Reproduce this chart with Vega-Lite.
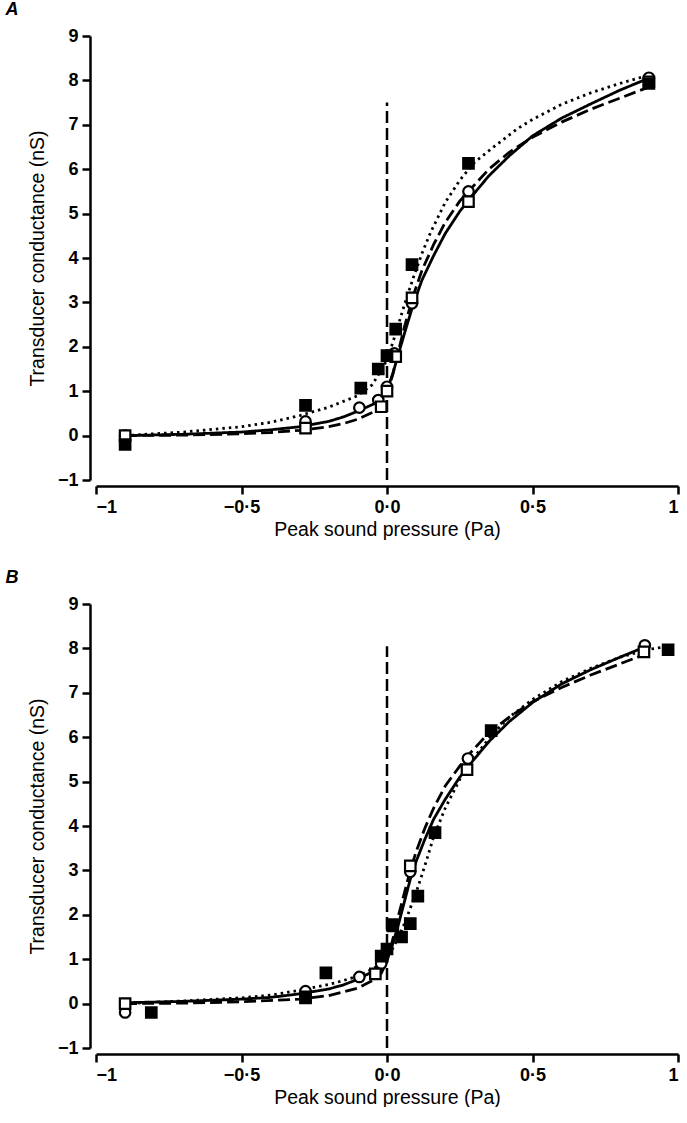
{
  "$schema": "https://vega.github.io/schema/vega-lite/v6.json",
  "background": "white",
  "padding": {"left": 5, "top": 1, "right": 0, "bottom": 0},
  "config": {
    "view": {"stroke": null},
    "font": "Liberation Sans",
    "axis": {
      "grid": false,
      "domainColor": "black",
      "domainWidth": 2.5,
      "tickColor": "black",
      "tickWidth": 2.5,
      "tickSize": 8,
      "labelColor": "black",
      "labelFont": "Liberation Sans",
      "labelFontSize": 18,
      "labelFontWeight": "bold",
      "labelPadding": 4,
      "titleColor": "black",
      "titleFont": "Liberation Sans",
      "titleFontSize": 19.5,
      "titleFontWeight": "normal",
      "offset": 6
    },
    "title": {"font": "Liberation Sans", "fontSize": 18, "fontWeight": "bold", "fontStyle": "italic", "color": "black", "anchor": "start", "frame": "bounds", "offset": 8}
  },
  "datasets": {
    "points": [
      {"panel": "A", "sym": "open circle", "p": -0.9, "g": 0.0},
      {"panel": "A", "sym": "open circle", "p": -0.28, "g": 0.32},
      {"panel": "A", "sym": "open circle", "p": -0.095, "g": 0.63},
      {"panel": "A", "sym": "open circle", "p": -0.03, "g": 0.8},
      {"panel": "A", "sym": "open circle", "p": 0.0, "g": 1.1},
      {"panel": "A", "sym": "open circle", "p": 0.025, "g": 1.85},
      {"panel": "A", "sym": "open circle", "p": 0.086, "g": 2.98},
      {"panel": "A", "sym": "open circle", "p": 0.28, "g": 5.5},
      {"panel": "A", "sym": "open circle", "p": 0.9, "g": 8.06},
      {"panel": "A", "sym": "open square", "p": -0.9, "g": 0.0},
      {"panel": "A", "sym": "open square", "p": -0.28, "g": 0.17},
      {"panel": "A", "sym": "open square", "p": -0.02, "g": 0.65},
      {"panel": "A", "sym": "open square", "p": 0.0, "g": 1.0},
      {"panel": "A", "sym": "open square", "p": 0.03, "g": 1.78},
      {"panel": "A", "sym": "open square", "p": 0.086, "g": 3.1},
      {"panel": "A", "sym": "open square", "p": 0.28, "g": 5.27},
      {"panel": "A", "sym": "open square", "p": 0.9, "g": 7.97},
      {"panel": "A", "sym": "filled square", "p": -0.9, "g": -0.2},
      {"panel": "A", "sym": "filled square", "p": -0.28, "g": 0.68},
      {"panel": "A", "sym": "filled square", "p": -0.09, "g": 1.07},
      {"panel": "A", "sym": "filled square", "p": -0.03, "g": 1.5},
      {"panel": "A", "sym": "filled square", "p": 0.0, "g": 1.8},
      {"panel": "A", "sym": "filled square", "p": 0.03, "g": 2.4},
      {"panel": "A", "sym": "filled square", "p": 0.086, "g": 3.85},
      {"panel": "A", "sym": "filled square", "p": 0.28, "g": 6.13},
      {"panel": "A", "sym": "filled square", "p": 0.9, "g": 7.93},
      {"panel": "B", "sym": "open circle", "p": -0.9, "g": -0.2},
      {"panel": "B", "sym": "open circle", "p": -0.28, "g": 0.28},
      {"panel": "B", "sym": "open circle", "p": -0.095, "g": 0.6},
      {"panel": "B", "sym": "open circle", "p": -0.02, "g": 0.9},
      {"panel": "B", "sym": "open circle", "p": 0.08, "g": 2.97},
      {"panel": "B", "sym": "open circle", "p": 0.278, "g": 5.52},
      {"panel": "B", "sym": "open circle", "p": 0.886, "g": 8.07},
      {"panel": "B", "sym": "open square", "p": -0.9, "g": 0.0},
      {"panel": "B", "sym": "open square", "p": -0.28, "g": 0.13},
      {"panel": "B", "sym": "open square", "p": -0.04, "g": 0.67},
      {"panel": "B", "sym": "open square", "p": 0.02, "g": 1.75},
      {"panel": "B", "sym": "open square", "p": 0.08, "g": 3.1},
      {"panel": "B", "sym": "open square", "p": 0.275, "g": 5.27},
      {"panel": "B", "sym": "open square", "p": 0.883, "g": 7.92},
      {"panel": "B", "sym": "filled square", "p": -0.81, "g": -0.2},
      {"panel": "B", "sym": "filled square", "p": -0.28, "g": 0.15},
      {"panel": "B", "sym": "filled square", "p": -0.21, "g": 0.69},
      {"panel": "B", "sym": "filled square", "p": -0.02, "g": 1.07},
      {"panel": "B", "sym": "filled square", "p": 0.0, "g": 1.23},
      {"panel": "B", "sym": "filled square", "p": 0.018, "g": 1.78},
      {"panel": "B", "sym": "filled square", "p": 0.05, "g": 1.5},
      {"panel": "B", "sym": "filled square", "p": 0.08, "g": 1.8},
      {"panel": "B", "sym": "filled square", "p": 0.106, "g": 2.42},
      {"panel": "B", "sym": "filled square", "p": 0.165, "g": 3.85},
      {"panel": "B", "sym": "filled square", "p": 0.358, "g": 6.15},
      {"panel": "B", "sym": "filled square", "p": 0.966, "g": 7.97}
    ],
    "curves": [
      {"panel": "A", "fit": "solid", "p": -0.9, "g": 0.0},
      {"panel": "A", "fit": "solid", "p": -0.7, "g": 0.03},
      {"panel": "A", "fit": "solid", "p": -0.5, "g": 0.08},
      {"panel": "A", "fit": "solid", "p": -0.4, "g": 0.13},
      {"panel": "A", "fit": "solid", "p": -0.3, "g": 0.2},
      {"panel": "A", "fit": "solid", "p": -0.2, "g": 0.32},
      {"panel": "A", "fit": "solid", "p": -0.15, "g": 0.42},
      {"panel": "A", "fit": "solid", "p": -0.1, "g": 0.55},
      {"panel": "A", "fit": "solid", "p": -0.05, "g": 0.7},
      {"panel": "A", "fit": "solid", "p": -0.02, "g": 0.82},
      {"panel": "A", "fit": "solid", "p": 0.0, "g": 1.02},
      {"panel": "A", "fit": "solid", "p": 0.02, "g": 1.4},
      {"panel": "A", "fit": "solid", "p": 0.04, "g": 1.85},
      {"panel": "A", "fit": "solid", "p": 0.06, "g": 2.3},
      {"panel": "A", "fit": "solid", "p": 0.09, "g": 2.95},
      {"panel": "A", "fit": "solid", "p": 0.12, "g": 3.5},
      {"panel": "A", "fit": "solid", "p": 0.16, "g": 4.05},
      {"panel": "A", "fit": "solid", "p": 0.2, "g": 4.55},
      {"panel": "A", "fit": "solid", "p": 0.25, "g": 5.05},
      {"panel": "A", "fit": "solid", "p": 0.28, "g": 5.3},
      {"panel": "A", "fit": "solid", "p": 0.35, "g": 5.85},
      {"panel": "A", "fit": "solid", "p": 0.42, "g": 6.3},
      {"panel": "A", "fit": "solid", "p": 0.5, "g": 6.75},
      {"panel": "A", "fit": "solid", "p": 0.6, "g": 7.15},
      {"panel": "A", "fit": "solid", "p": 0.7, "g": 7.47},
      {"panel": "A", "fit": "solid", "p": 0.8, "g": 7.78},
      {"panel": "A", "fit": "solid", "p": 0.9, "g": 8.05},
      {"panel": "A", "fit": "dashed", "p": -0.9, "g": 0.0},
      {"panel": "A", "fit": "dashed", "p": -0.7, "g": 0.01},
      {"panel": "A", "fit": "dashed", "p": -0.5, "g": 0.04},
      {"panel": "A", "fit": "dashed", "p": -0.4, "g": 0.07},
      {"panel": "A", "fit": "dashed", "p": -0.3, "g": 0.12},
      {"panel": "A", "fit": "dashed", "p": -0.2, "g": 0.2},
      {"panel": "A", "fit": "dashed", "p": -0.15, "g": 0.27},
      {"panel": "A", "fit": "dashed", "p": -0.1, "g": 0.37},
      {"panel": "A", "fit": "dashed", "p": -0.05, "g": 0.52},
      {"panel": "A", "fit": "dashed", "p": -0.02, "g": 0.66},
      {"panel": "A", "fit": "dashed", "p": 0.0, "g": 0.95},
      {"panel": "A", "fit": "dashed", "p": 0.02, "g": 1.38},
      {"panel": "A", "fit": "dashed", "p": 0.04, "g": 1.92},
      {"panel": "A", "fit": "dashed", "p": 0.06, "g": 2.45},
      {"panel": "A", "fit": "dashed", "p": 0.09, "g": 3.15},
      {"panel": "A", "fit": "dashed", "p": 0.12, "g": 3.72},
      {"panel": "A", "fit": "dashed", "p": 0.16, "g": 4.3},
      {"panel": "A", "fit": "dashed", "p": 0.2, "g": 4.8},
      {"panel": "A", "fit": "dashed", "p": 0.25, "g": 5.28},
      {"panel": "A", "fit": "dashed", "p": 0.28, "g": 5.5},
      {"panel": "A", "fit": "dashed", "p": 0.35, "g": 6.0},
      {"panel": "A", "fit": "dashed", "p": 0.42, "g": 6.38},
      {"panel": "A", "fit": "dashed", "p": 0.5, "g": 6.72},
      {"panel": "A", "fit": "dashed", "p": 0.6, "g": 7.06},
      {"panel": "A", "fit": "dashed", "p": 0.7, "g": 7.35},
      {"panel": "A", "fit": "dashed", "p": 0.8, "g": 7.6},
      {"panel": "A", "fit": "dashed", "p": 0.9, "g": 7.85},
      {"panel": "A", "fit": "dotted", "p": -0.9, "g": 0.0},
      {"panel": "A", "fit": "dotted", "p": -0.7, "g": 0.08},
      {"panel": "A", "fit": "dotted", "p": -0.5, "g": 0.2},
      {"panel": "A", "fit": "dotted", "p": -0.4, "g": 0.3},
      {"panel": "A", "fit": "dotted", "p": -0.3, "g": 0.45},
      {"panel": "A", "fit": "dotted", "p": -0.2, "g": 0.64},
      {"panel": "A", "fit": "dotted", "p": -0.1, "g": 0.9},
      {"panel": "A", "fit": "dotted", "p": -0.05, "g": 1.15},
      {"panel": "A", "fit": "dotted", "p": 0.0, "g": 1.7},
      {"panel": "A", "fit": "dotted", "p": 0.03, "g": 2.3},
      {"panel": "A", "fit": "dotted", "p": 0.06, "g": 2.95},
      {"panel": "A", "fit": "dotted", "p": 0.09, "g": 3.55},
      {"panel": "A", "fit": "dotted", "p": 0.12, "g": 4.1},
      {"panel": "A", "fit": "dotted", "p": 0.15, "g": 4.58},
      {"panel": "A", "fit": "dotted", "p": 0.2, "g": 5.25},
      {"panel": "A", "fit": "dotted", "p": 0.25, "g": 5.75},
      {"panel": "A", "fit": "dotted", "p": 0.3, "g": 6.15},
      {"panel": "A", "fit": "dotted", "p": 0.37, "g": 6.52},
      {"panel": "A", "fit": "dotted", "p": 0.45, "g": 6.92},
      {"panel": "A", "fit": "dotted", "p": 0.5, "g": 7.12},
      {"panel": "A", "fit": "dotted", "p": 0.6, "g": 7.46},
      {"panel": "A", "fit": "dotted", "p": 0.7, "g": 7.72},
      {"panel": "A", "fit": "dotted", "p": 0.8, "g": 7.93},
      {"panel": "A", "fit": "dotted", "p": 0.9, "g": 8.12},
      {"panel": "B", "fit": "solid", "p": -0.9, "g": 0.02},
      {"panel": "B", "fit": "solid", "p": -0.7, "g": 0.05},
      {"panel": "B", "fit": "solid", "p": -0.5, "g": 0.1},
      {"panel": "B", "fit": "solid", "p": -0.4, "g": 0.14},
      {"panel": "B", "fit": "solid", "p": -0.3, "g": 0.22},
      {"panel": "B", "fit": "solid", "p": -0.2, "g": 0.33},
      {"panel": "B", "fit": "solid", "p": -0.15, "g": 0.42},
      {"panel": "B", "fit": "solid", "p": -0.1, "g": 0.55},
      {"panel": "B", "fit": "solid", "p": -0.05, "g": 0.72},
      {"panel": "B", "fit": "solid", "p": -0.02, "g": 0.85},
      {"panel": "B", "fit": "solid", "p": 0.0, "g": 1.0},
      {"panel": "B", "fit": "solid", "p": 0.02, "g": 1.35},
      {"panel": "B", "fit": "solid", "p": 0.04, "g": 1.8},
      {"panel": "B", "fit": "solid", "p": 0.06, "g": 2.3},
      {"panel": "B", "fit": "solid", "p": 0.08, "g": 2.8},
      {"panel": "B", "fit": "solid", "p": 0.1, "g": 3.2},
      {"panel": "B", "fit": "solid", "p": 0.13, "g": 3.7},
      {"panel": "B", "fit": "solid", "p": 0.16, "g": 4.15},
      {"panel": "B", "fit": "solid", "p": 0.2, "g": 4.6},
      {"panel": "B", "fit": "solid", "p": 0.25, "g": 5.1},
      {"panel": "B", "fit": "solid", "p": 0.28, "g": 5.35},
      {"panel": "B", "fit": "solid", "p": 0.35, "g": 5.9},
      {"panel": "B", "fit": "solid", "p": 0.42, "g": 6.35},
      {"panel": "B", "fit": "solid", "p": 0.5, "g": 6.78},
      {"panel": "B", "fit": "solid", "p": 0.6, "g": 7.2},
      {"panel": "B", "fit": "solid", "p": 0.7, "g": 7.52},
      {"panel": "B", "fit": "solid", "p": 0.8, "g": 7.8},
      {"panel": "B", "fit": "solid", "p": 0.885, "g": 8.03},
      {"panel": "B", "fit": "dashed", "p": -0.9, "g": 0.0},
      {"panel": "B", "fit": "dashed", "p": -0.7, "g": 0.01},
      {"panel": "B", "fit": "dashed", "p": -0.5, "g": 0.04},
      {"panel": "B", "fit": "dashed", "p": -0.3, "g": 0.1},
      {"panel": "B", "fit": "dashed", "p": -0.2, "g": 0.18},
      {"panel": "B", "fit": "dashed", "p": -0.1, "g": 0.35},
      {"panel": "B", "fit": "dashed", "p": -0.05, "g": 0.52},
      {"panel": "B", "fit": "dashed", "p": -0.02, "g": 0.68},
      {"panel": "B", "fit": "dashed", "p": 0.0, "g": 0.95},
      {"panel": "B", "fit": "dashed", "p": 0.02, "g": 1.45},
      {"panel": "B", "fit": "dashed", "p": 0.04, "g": 2.0},
      {"panel": "B", "fit": "dashed", "p": 0.06, "g": 2.5},
      {"panel": "B", "fit": "dashed", "p": 0.08, "g": 3.0},
      {"panel": "B", "fit": "dashed", "p": 0.1, "g": 3.42},
      {"panel": "B", "fit": "dashed", "p": 0.13, "g": 3.95},
      {"panel": "B", "fit": "dashed", "p": 0.16, "g": 4.4},
      {"panel": "B", "fit": "dashed", "p": 0.2, "g": 4.9},
      {"panel": "B", "fit": "dashed", "p": 0.25, "g": 5.35},
      {"panel": "B", "fit": "dashed", "p": 0.28, "g": 5.6},
      {"panel": "B", "fit": "dashed", "p": 0.35, "g": 6.1},
      {"panel": "B", "fit": "dashed", "p": 0.42, "g": 6.45},
      {"panel": "B", "fit": "dashed", "p": 0.5, "g": 6.8},
      {"panel": "B", "fit": "dashed", "p": 0.6, "g": 7.12},
      {"panel": "B", "fit": "dashed", "p": 0.7, "g": 7.4},
      {"panel": "B", "fit": "dashed", "p": 0.8, "g": 7.65},
      {"panel": "B", "fit": "dashed", "p": 0.883, "g": 7.86},
      {"panel": "B", "fit": "dotted", "p": -0.9, "g": 0.0},
      {"panel": "B", "fit": "dotted", "p": -0.7, "g": 0.06},
      {"panel": "B", "fit": "dotted", "p": -0.5, "g": 0.13},
      {"panel": "B", "fit": "dotted", "p": -0.4, "g": 0.19},
      {"panel": "B", "fit": "dotted", "p": -0.3, "g": 0.3},
      {"panel": "B", "fit": "dotted", "p": -0.2, "g": 0.43},
      {"panel": "B", "fit": "dotted", "p": -0.15, "g": 0.52},
      {"panel": "B", "fit": "dotted", "p": -0.1, "g": 0.62},
      {"panel": "B", "fit": "dotted", "p": -0.05, "g": 0.78},
      {"panel": "B", "fit": "dotted", "p": -0.02, "g": 0.9},
      {"panel": "B", "fit": "dotted", "p": 0.0, "g": 1.05},
      {"panel": "B", "fit": "dotted", "p": 0.02, "g": 1.25},
      {"panel": "B", "fit": "dotted", "p": 0.04, "g": 1.5},
      {"panel": "B", "fit": "dotted", "p": 0.06, "g": 1.8},
      {"panel": "B", "fit": "dotted", "p": 0.08, "g": 2.15},
      {"panel": "B", "fit": "dotted", "p": 0.1, "g": 2.5},
      {"panel": "B", "fit": "dotted", "p": 0.13, "g": 3.1},
      {"panel": "B", "fit": "dotted", "p": 0.16, "g": 3.75},
      {"panel": "B", "fit": "dotted", "p": 0.2, "g": 4.4},
      {"panel": "B", "fit": "dotted", "p": 0.25, "g": 5.05},
      {"panel": "B", "fit": "dotted", "p": 0.3, "g": 5.55},
      {"panel": "B", "fit": "dotted", "p": 0.36, "g": 6.05},
      {"panel": "B", "fit": "dotted", "p": 0.42, "g": 6.45},
      {"panel": "B", "fit": "dotted", "p": 0.5, "g": 6.85},
      {"panel": "B", "fit": "dotted", "p": 0.6, "g": 7.25},
      {"panel": "B", "fit": "dotted", "p": 0.7, "g": 7.55},
      {"panel": "B", "fit": "dotted", "p": 0.8, "g": 7.8},
      {"panel": "B", "fit": "dotted", "p": 0.9, "g": 7.98},
      {"panel": "B", "fit": "dotted", "p": 0.97, "g": 8.05}
    ],
    "vline": [
      {"panel": "A", "p": 0, "g0": -1, "g1": 7.5},
      {"panel": "B", "p": 0, "g0": -1, "g1": 8.05}
    ]
  },
  "spacing": 30,
  "vconcat": [
    {
      "title": {"text": "A", "dx": -22},
      "width": 582,
      "height": 444,
      "layer": [
        {
          "data": {"name": "vline"},
          "transform": [{"filter": "datum.panel === 'A'"}],
          "mark": {"type": "rule", "strokeDash": [12, 5], "strokeWidth": 2.5, "color": "black"},
          "encoding": {
            "x": {"field": "p", "type": "quantitative"},
            "y": {"field": "g0", "type": "quantitative"},
            "y2": {"field": "g1"}
          }
        },
        {
          "data": {"name": "curves"},
          "transform": [{"filter": "datum.panel === 'A'"}],
          "mark": {"type": "line", "strokeWidth": 2.8, "color": "black"},
          "encoding": {
            "x": {"field": "p", "type": "quantitative"},
            "y": {"field": "g", "type": "quantitative"},
            "strokeDash": {"field": "fit", "type": "nominal", "scale": {"domain": ["solid", "dashed", "dotted"], "range": [[1, 0], [12, 5], [2.5, 4]]}, "legend": null}
          }
        },
        {
          "data": {"name": "points"},
          "transform": [{"filter": "datum.panel === 'A'"}],
          "mark": {"type": "point", "filled": true, "size": 110, "stroke": "black", "strokeWidth": 2.2, "opacity": 1},
          "encoding": {
            "x": {"field": "p", "type": "quantitative", "scale": {"domain": [-1, 1], "nice": false, "zero": false},
              "axis": {"title": "Peak sound pressure (Pa)", "values": [-1, -0.5, 0, 0.5, 1], "labelExpr": "datum.value == 0 ? '0·0' : datum.value == 1 ? '1' : datum.value == -1 ? '−1' : datum.value < 0 ? '−0·5' : '0·5'"}},
            "y": {"field": "g", "type": "quantitative", "scale": {"domain": [-1, 9], "nice": false, "zero": false},
              "axis": {"title": "Transducer conductance (nS)", "values": [-1, 0, 1, 2, 3, 4, 5, 6, 7, 8, 9], "labelExpr": "datum.value < 0 ? '−' + abs(datum.value) : '' + datum.value", "titlePadding": 10}},
            "shape": {"field": "sym", "type": "nominal", "scale": {"domain": ["open circle", "open square", "filled square"], "range": ["circle", "square", "square"]}, "legend": null},
            "fill": {"field": "sym", "type": "nominal", "scale": {"domain": ["open circle", "open square", "filled square"], "range": ["white", "white", "black"]}, "legend": null}
          }
        }
      ]
    },
    {
      "title": {"text": "B", "dx": -22},
      "width": 582,
      "height": 444,
      "layer": [
        {
          "data": {"name": "vline"},
          "transform": [{"filter": "datum.panel === 'B'"}],
          "mark": {"type": "rule", "strokeDash": [12, 5], "strokeWidth": 2.5, "color": "black"},
          "encoding": {
            "x": {"field": "p", "type": "quantitative"},
            "y": {"field": "g0", "type": "quantitative"},
            "y2": {"field": "g1"}
          }
        },
        {
          "data": {"name": "curves"},
          "transform": [{"filter": "datum.panel === 'B'"}],
          "mark": {"type": "line", "strokeWidth": 2.8, "color": "black"},
          "encoding": {
            "x": {"field": "p", "type": "quantitative"},
            "y": {"field": "g", "type": "quantitative"},
            "strokeDash": {"field": "fit", "type": "nominal", "scale": {"domain": ["solid", "dashed", "dotted"], "range": [[1, 0], [12, 5], [2.5, 4]]}, "legend": null}
          }
        },
        {
          "data": {"name": "points"},
          "transform": [{"filter": "datum.panel === 'B'"}],
          "mark": {"type": "point", "filled": true, "size": 110, "stroke": "black", "strokeWidth": 2.2, "opacity": 1},
          "encoding": {
            "x": {"field": "p", "type": "quantitative", "scale": {"domain": [-1, 1], "nice": false, "zero": false},
              "axis": {"title": "Peak sound pressure (Pa)", "values": [-1, -0.5, 0, 0.5, 1], "labelExpr": "datum.value == 0 ? '0·0' : datum.value == 1 ? '1' : datum.value == -1 ? '−1' : datum.value < 0 ? '−0·5' : '0·5'"}},
            "y": {"field": "g", "type": "quantitative", "scale": {"domain": [-1, 9], "nice": false, "zero": false},
              "axis": {"title": "Transducer conductance (nS)", "values": [-1, 0, 1, 2, 3, 4, 5, 6, 7, 8, 9], "labelExpr": "datum.value < 0 ? '−' + abs(datum.value) : '' + datum.value", "titlePadding": 10}},
            "shape": {"field": "sym", "type": "nominal", "scale": {"domain": ["open circle", "open square", "filled square"], "range": ["circle", "square", "square"]}, "legend": null},
            "fill": {"field": "sym", "type": "nominal", "scale": {"domain": ["open circle", "open square", "filled square"], "range": ["white", "white", "black"]}, "legend": null}
          }
        }
      ]
    }
  ]
}
